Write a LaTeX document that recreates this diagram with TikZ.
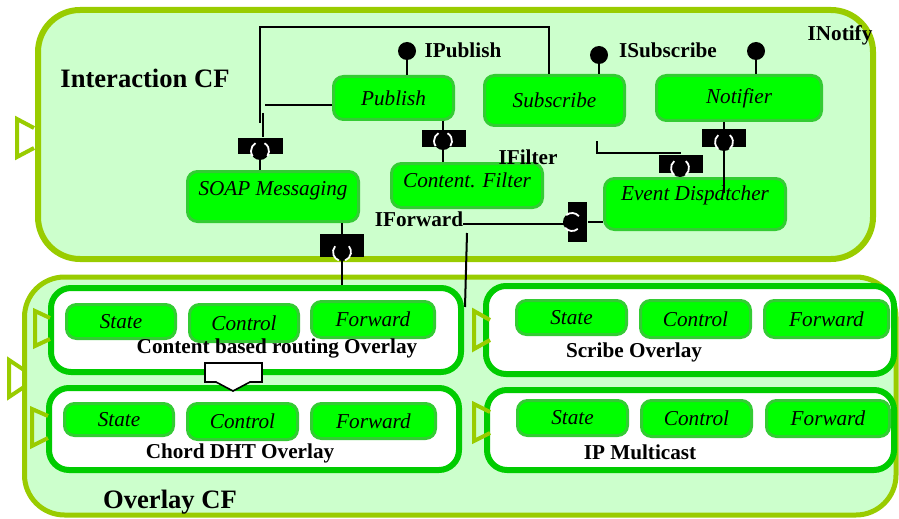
\documentclass[tikz,border=0pt]{standalone}
\usepackage{fontspec}
\setmainfont{Liberation Serif}
\definecolor{cfback}{HTML}{CCFFCC}
\definecolor{cfline}{HTML}{99CC00}
\definecolor{ovline}{HTML}{00CC00}
\definecolor{compfill}{HTML}{00FF00}
\definecolor{compline}{HTML}{33CC33}

\begin{document}
\begin{tikzpicture}[x=0.5pt, y=-0.5pt, line width=1pt]

\tikzstyle{cf}=[fill=cfback, draw=cfline, line width=3pt, rounded corners=21pt]
\tikzstyle{tab}=[draw=cfline, line width=2pt]
\tikzstyle{overlay}=[rectangle, fill=white, draw=ovline, line width=3pt, rounded corners=10pt, inner sep=0pt]
\tikzstyle{comp}=[rectangle, fill=compfill, draw=compline, line width=1.5pt, rounded corners=5pt, inner sep=0pt, font=\fontsize{10.6}{12}\selectfont\itshape]
\tikzstyle{title}=[font=\fontsize{13.3}{15}\selectfont\bfseries, inner sep=0pt]
\tikzstyle{lbl}=[font=\fontsize{10.6}{12}\selectfont\bfseries, inner sep=0pt]
\tikzstyle{sock}=[rectangle, fill=black, inner sep=0pt]
\tikzstyle{ball}=[circle, fill=black, minimum size=9pt, inner sep=0pt, outer sep=0pt]
\tikzstyle{crescent}=[white, line width=0.9pt]

\useasboundingbox (0,0) rectangle (899,519);

% frames
\draw[cf] (38,10) rectangle (873,259);
\draw[tab] (34,128) -- (17,119) -- (17,157) -- (34,148);
\draw[cf, line width=2.5pt, rounded corners=20pt] (24.5,277) rectangle (896,515);
\draw[tab] (24,370) -- (9,360) -- (9,397) -- (24,387);

% overlays
\draw (256,330) node[overlay, minimum width=205pt, minimum height=42pt] (cbr) {};
\draw (254,429) node[overlay, minimum width=205pt, minimum height=41pt] (chord) {};
\draw (690,330) node[overlay, minimum width=204pt, minimum height=44pt] (scribe) {};
\draw (690.5,430) node[overlay, minimum width=203.5pt, minimum height=40pt] (ipm) {};
\draw[tab] (50,318) -- (35,311) -- (35,346) -- (50,339);
\draw[tab] (48,416) -- (32,409) -- (32,446) -- (48,438);
\draw[tab] (490,320) -- (474,311) -- (474,349) -- (490,340);
\draw[tab] (490,412) -- (474,404) -- (474,441) -- (490,433);

\draw (121,321.5) node[comp, minimum width=54.5pt, minimum height=17pt] (cbrState) {State}
      (244,323) node[comp, minimum width=54.5pt, minimum height=18.5pt] (cbrCtrl) {Control}
      (373,319.5) node[comp, minimum width=61.5pt, minimum height=18pt] (cbrFwd) {Forward};
\draw (119,419.5) node[comp, minimum width=54.5pt, minimum height=16pt] (chState) {State}
      (242.5,421.5) node[comp, minimum width=55pt, minimum height=18pt] (chCtrl) {Control}
      (373.5,421) node[comp, minimum width=62pt, minimum height=17.5pt] (chFwd) {Forward};
\draw (571.5,317.5) node[comp, minimum width=55pt, minimum height=17pt] (scState) {State}
      (695.5,319) node[comp, minimum width=55pt, minimum height=18.5pt] (scCtrl) {Control}
      (826.5,319) node[comp, minimum width=62pt, minimum height=18.5pt] (scFwd) {Forward};
\draw (572.5,418) node[comp, minimum width=55pt, minimum height=17.5pt] (ipState) {State}
      (696.5,418.5) node[comp, minimum width=55pt, minimum height=18pt] (ipCtrl) {Control}
      (828,418.5) node[comp, minimum width=61.5pt, minimum height=18pt] (ipFwd) {Forward};

\draw (277,348) node[lbl] (cbrLbl) {Content based routing Overlay};
\draw (240,453) node[lbl] (chordLbl) {Chord DHT Overlay};
\draw (634,352) node[lbl] (scribeLbl) {Scribe Overlay};
\draw (640,452) node[lbl] (ipmLbl) {IP Multicast};
\draw (170,502) node[title] (ovLbl) {Overlay CF};

% down arrow
\draw[fill=white, line width=0.8pt] (205,363) -- (262,363) -- (262,382) -- (250,382)
      -- (233,391) -- (216,382) -- (205,382) -- cycle;

% interaction components
\draw (145,78) node[title] (intLbl) {Interaction CF};
\draw (393.5,98) node[comp, minimum width=60pt, minimum height=21.5pt] (pub) {Publish};
\draw (554.5,100.5) node[comp, minimum width=70pt, minimum height=25pt] (sub) {Subscribe};
\draw (739,98) node[comp, minimum width=82.5pt, minimum height=22.5pt] (notif) {Notifier};
\draw (273,196.5) node[comp, minimum width=85.5pt, minimum height=25pt, text depth=8pt] (soap) {SOAP Messaging};
\draw (467,185.5) node[comp, minimum width=75.5pt, minimum height=22pt, text depth=5pt] (cfilt) {Content. Filter};
\draw (695,204) node[comp, minimum width=90.5pt, minimum height=25.5pt, text depth=11pt] (ed) {Event Dispdtcher};

\draw (463,50) node[lbl] (ipubLbl) {IPublish};
\draw (668,50) node[lbl] (isubLbl) {ISubscribe};
\draw (840,35) node[lbl] (inotLbl) {INotify};
\draw (528,157) node[lbl] (ifiltLbl) {IFilter};
\draw (419,219) node[lbl] (ifwdLbl) {IForward};

% provided interfaces
\draw (407,51) node[ball] (lp1) {};
\draw (599,55) node[ball] (lp2) {};
\draw (756,51) node[ball] (lp3) {};

% receptacles
\draw (260.5,146) node[sock, minimum width=22.5pt, minimum height=8pt] (s1) {};
\draw (444,138.5) node[sock, minimum width=22pt, minimum height=8.5pt] (s2) {};
\draw (681,164) node[sock, minimum width=22pt, minimum height=9pt] (s3) {};
\draw (724,138) node[sock, minimum width=22pt, minimum height=9pt] (s4) {};
\draw (342,245.5) node[sock, minimum width=22pt, minimum height=11.5pt] (s5) {};
\draw (577.5,222) node[sock, minimum width=9.5pt, minimum height=20pt] (s6) {};
\draw (260,151) node[ball] (b1) {}
      (443,141) node[ball] (b2) {}
      (680,168) node[ball] (b3) {}
      (724,142) node[ball] (b4) {}
      (342,252) node[ball] (b5) {}
      (572,222) node[ball] (b6) {};

% wires
\coordinate (wRight) at (549,27);
\coordinate (wCorner) at (260,27);
\coordinate (wDrop) at (260,123);
\coordinate (wPub) at (265,105);
\coordinate (wSoap) at (263,113);
\coordinate (wSub) at (597,141);
\coordinate (wBend) at (680,153);
\coordinate (wNot) at (724,193);
\coordinate (wIf) at (463,224);
\coordinate (wFa) at (467,233);
\coordinate (wFb) at (465,307);

\draw (lp1) -- (pub.north -| lp1);
\draw (lp2) -- (sub.north -| lp2);
\draw (lp3) -- (notif.north -| lp3);
\draw (sub.north -| wRight) -- (wRight) -- (wCorner) -- (wDrop);
\draw (pub.west |- wPub) -- (wPub);
\draw (wSoap) -- (s1.north -| wSoap);
\draw (b1) -- (soap.north -| b1);
\draw (pub.south -| b2) -- (cfilt.north -| b2);
\draw (wSub) |- (wBend) -- (s3.north -| wBend);
\draw (b3) -- (ed.north -| b3);
\draw (notif.south -| wNot) -- (wNot);
\draw (soap.south -| b5) -- (b5) -- (cbr.north -| b5);
\draw (wIf) -- (s6.west |- wIf);
\draw (s6.east) -- (ed.west |- s6.east);
\draw (wFa) -- (wFb);

\draw[crescent] (b1.120) arc (120:215:4.5pt) (b1.-35) arc (-35:60:4.5pt);
\draw[crescent] (b2.120) arc (120:215:4.5pt) (b2.-35) arc (-35:60:4.5pt);
\draw[crescent] (b3.130) arc (130:230:4.5pt) (b3.-50) arc (-50:50:4.5pt);
\draw[crescent] (b4.130) arc (130:230:4.5pt) (b4.-50) arc (-50:50:4.5pt);
\draw[crescent] (b5.140) arc (140:250:4.5pt) (b5.-70) arc (-70:40:4.5pt);
\draw[crescent] (b6.40) arc (40:130:4.5pt) (b6.220) arc (220:310:4.5pt);

\end{tikzpicture}
\end{document}
